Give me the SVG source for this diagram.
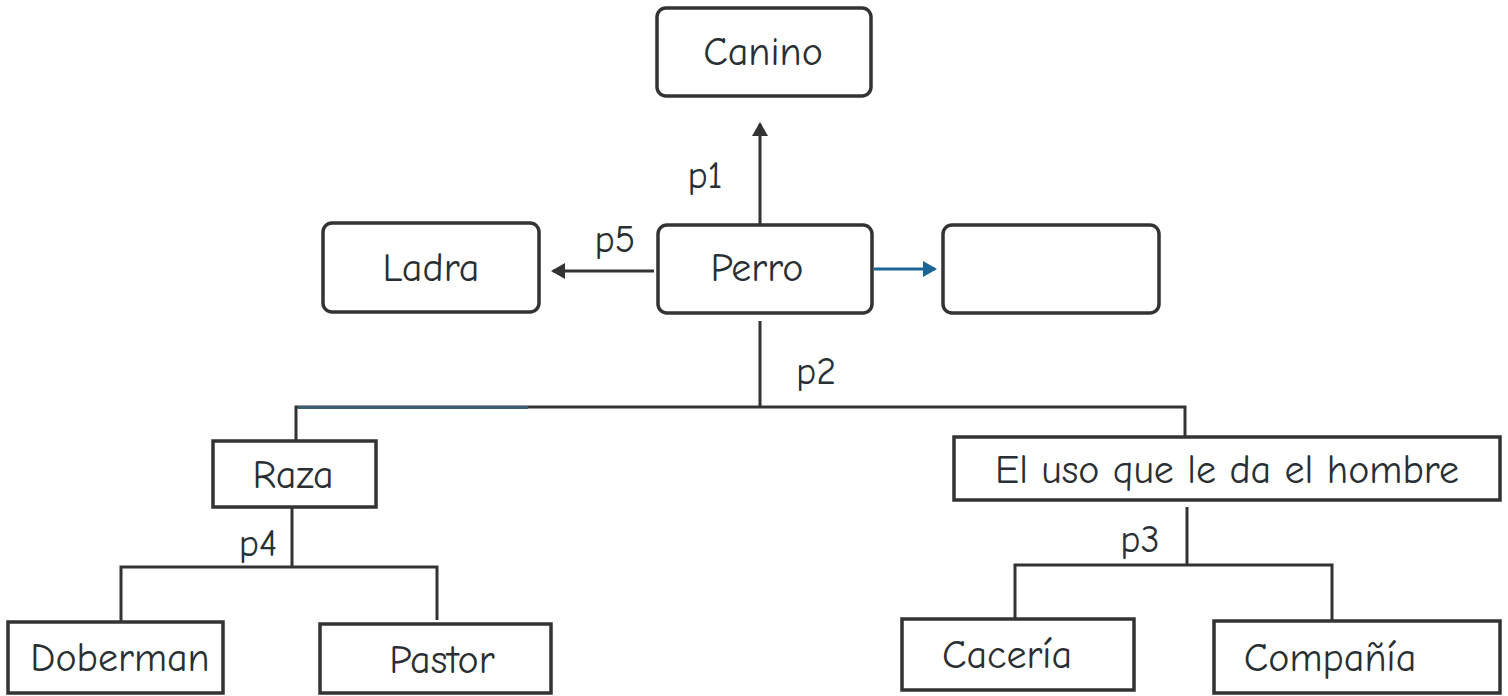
<svg xmlns="http://www.w3.org/2000/svg" width="1508" height="696" viewBox="0 0 1508 696">
<style>
.box{fill:#fff;stroke:#333;stroke-width:3.5}
.t{font-family:"Comic Neue","Liberation Sans",sans-serif;font-size:40px;fill:#2a2f33;text-anchor:middle;dominant-baseline:central}
.lb{font-family:"Comic Neue","Liberation Sans",sans-serif;font-size:38px;fill:#2a2f33;text-anchor:middle;dominant-baseline:central}
.c{fill:none;stroke:#333;stroke-width:3}
</style>
<defs>
<marker id="ahb" markerWidth="14" markerHeight="16" refX="12" refY="8" orient="auto" markerUnits="userSpaceOnUse" viewBox="0 0 14 16"><path d="M0,0 L14,8 L0,16 z" fill="#1a6496"/></marker>
<marker id="ahk" markerWidth="14" markerHeight="16" refX="12" refY="8" orient="auto" markerUnits="userSpaceOnUse" viewBox="0 0 14 16"><path d="M0,0 L14,8 L0,16 z" fill="#333"/></marker>
</defs>
<g id="connectors">
<line class="c" x1="760" y1="225" x2="760" y2="124" marker-end="url(#ahk)"/>
<line class="c" x1="654" y1="271" x2="553" y2="271" marker-end="url(#ahk)"/>
<line x1="874" y1="269" x2="935" y2="269" stroke="#1a6496" stroke-width="3" marker-end="url(#ahb)"/>
<line class="c" x1="760" y1="321" x2="760" y2="407"/>
<polyline class="c" points="296,440 296,407 1185,407 1185,437"/>
<line x1="298" y1="407.5" x2="528" y2="407.5" stroke="#3b5f70" stroke-width="3"/>
<line class="c" x1="292" y1="508" x2="292" y2="567"/>
<polyline class="c" points="121,622 121,567 437,567 437,620"/>
<line class="c" x1="1187" y1="507" x2="1187" y2="565"/>
<polyline class="c" points="1015,619 1015,565 1332,565 1332,621"/>
<text class="lb" x="705" y="176">p1</text>
<text class="lb" x="615" y="240">p5</text>
<text class="lb" x="816" y="372">p2</text>
<text class="lb" x="258" y="544">p4</text>
<text class="lb" x="1140" y="540">p3</text>
</g>
<g id="canino"><rect class="box" x="657" y="8" width="214" height="88" rx="9"/><text class="t" x="763" y="52">Canino</text></g>
<g id="ladra"><rect class="box" x="323" y="223" width="216" height="89" rx="9"/><text class="t" x="431" y="268">Ladra</text></g>
<g id="perro"><rect class="box" x="658" y="225" width="214" height="88" rx="9"/><text class="t" x="757" y="268">Perro</text></g>
<g id="vacio"><rect class="box" x="943" y="225" width="216" height="88" rx="9"/></g>
<g id="raza"><rect class="box" x="213" y="441" width="163" height="66"/><text class="t" x="293" y="475">Raza</text></g>
<g id="uso"><rect class="box" x="954" y="437" width="546" height="63"/><text class="t" x="1227" y="470">El uso que le da el hombre</text></g>
<g id="doberman"><rect class="box" x="8" y="622" width="215" height="71"/><text class="t" x="120" y="658">Doberman</text></g>
<g id="pastor"><rect class="box" x="320" y="624" width="231" height="69"/><text class="t" x="442" y="660">Pastor</text></g>
<g id="caceria"><rect class="box" x="902" y="619" width="232" height="71"/><text class="t" x="1007" y="655">Cacería</text></g>
<g id="compania"><rect class="box" x="1214" y="621" width="286" height="72"/><text class="t" x="1330" y="658">Compañía</text></g>
</svg>
